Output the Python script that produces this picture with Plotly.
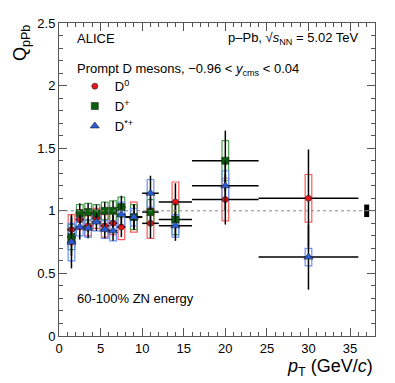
import plotly.graph_objects as go

# pT bins (GeV/c)
pt = [1.5, 2.5, 3.5, 4.5, 5.5, 6.5, 7.5, 9, 11, 14, 20, 30]
pt_hw = [0.5, 0.5, 0.5, 0.5, 0.5, 0.5, 0.5, 1, 1, 2, 4, 6]

# D0
d0_q = [0.85, 0.93, 0.88, 0.94, 0.88, 0.90, 0.87, 0.95, 0.90, 1.07, 1.09, 1.10]
d0_stat = [0.12, 0.06, 0.05, 0.05, 0.06, 0.07, 0.08, 0.10, 0.12, 0.15, 0.20, 0.39]
d0_syst = [0.12, 0.08, 0.08, 0.08, 0.09, 0.09, 0.10, 0.12, 0.12, 0.16, 0.17, 0.19]

# D+
dp_q = [0.79, 0.98, 0.99, 0.98, 1.00, 1.00, 1.03, 0.95, 0.99, 0.93, 1.40]
dp_stat = [0.15, 0.08, 0.07, 0.07, 0.07, 0.08, 0.09, 0.10, 0.12, 0.13, 0.24]
dp_syst = [0.10, 0.07, 0.07, 0.07, 0.07, 0.08, 0.08, 0.10, 0.10, 0.12, 0.16]

# D*+
ds_q = [0.75, 0.87, 0.86, 0.91, 0.85, 0.84, 0.97, 0.95, 1.14, 0.88, 1.20, 0.63]
ds_stat = [0.21, 0.10, 0.08, 0.07, 0.07, 0.08, 0.09, 0.10, 0.14, 0.12, 0.20, 0.26]
ds_syst = [0.15, 0.07, 0.07, 0.07, 0.07, 0.08, 0.10, 0.07, 0.11, 0.09, 0.12, 0.07]

# normalisation uncertainty
norm_x = [37]
norm_val = [1.0]
norm_unc = [0.05]

species = [
    ('D<sup>0</sup>', d0_q, d0_stat, d0_syst, 'circle', 6, '#e8141c', '#ff5a5a'),
    ('D<sup>+</sup>', dp_q, dp_stat, dp_syst, 'square', 7, '#0a5f0a', '#4fa04f'),
    ('D<sup>*+</sup>', ds_q, ds_stat, ds_syst, 'triangle-up', 8, '#2a5bd7', '#6b93f5'),
]

FONT = 'Liberation Sans, Arial, sans-serif'

fig = go.Figure()

# systematic boxes
for name, q, stat, syst, sym, size, col, boxcol in species:
    n = len(q)
    fig.add_trace(go.Bar(
        x=pt[:n], y=[2 * s for s in syst], base=[v - s for v, s in zip(q, syst)],
        width=0.8, marker=dict(color='rgba(0,0,0,0)', line=dict(color=boxcol, width=1.2)),
        showlegend=False, hoverinfo='skip'))

# points with stat errors
for name, q, stat, syst, sym, size, col, boxcol in species:
    n = len(q)
    fig.add_trace(go.Scatter(
        x=pt[:n], y=q, mode='markers', name=name,
        marker=dict(symbol=sym, size=size, color=col, line=dict(color='#222222', width=0.6)),
        error_y=dict(type='data', array=stat, color='black', thickness=1.5, width=0),
        error_x=dict(type='data', array=pt_hw[:n], color='black', thickness=1.5, width=0),
    ))

# normalisation box
fig.add_trace(go.Bar(
    x=norm_x, y=[2 * u for u in norm_unc], base=[v - u for v, u in zip(norm_val, norm_unc)],
    width=0.6, marker=dict(color='black', line=dict(width=0)), showlegend=False))

fig.add_hline(y=1, line=dict(color='#888888', width=1, dash='dot'))

axis_common = dict(
    showline=True, linecolor='#555555', linewidth=1, mirror='ticks',
    ticks='inside', ticklen=8, tickcolor='#555555', showgrid=False, zeroline=False,
    tickfont=dict(family=FONT, size=13, color='black'), automargin=False,
)

fig.update_xaxes(range=[0, 38], dtick=5, tick0=0,
                 minor=dict(dtick=1, ticks='inside', ticklen=4, tickcolor='#555555'),
                 **axis_common)
fig.update_yaxes(range=[0, 2.5], dtick=0.5, tick0=0,
                 minor=dict(dtick=0.1, ticks='inside', ticklen=4, tickcolor='#555555'),
                 **axis_common)

txt = dict(family=FONT, size=13, color='black')
ann = [
    dict(x=0.05, y=0.95, text='ALICE', xanchor='left'),
    dict(x=0.955, y=0.95, text='p–Pb, √<i>s</i><sub>NN</sub> = 5.02 TeV', xanchor='right'),
    dict(x=0.05, y=0.85, text='Prompt D mesons, −0.96 &lt; <i>y</i><sub>cms</sub> &lt; 0.04', xanchor='left'),
    dict(x=0.05, y=0.12, text='60-100% ZN energy', xanchor='left'),
]
for a in ann:
    fig.add_annotation(xref='paper', yref='paper', yanchor='middle', showarrow=False,
                       font=txt, **a)

fig.add_annotation(xref='paper', yref='paper', x=1.0, y=-0.1, xanchor='right', yanchor='middle',
                   text='<i>p</i><sub>T</sub> (GeV/<i>c</i>)', showarrow=False,
                   font=dict(family=FONT, size=18, color='black'))
fig.add_annotation(xref='paper', yref='paper', x=-0.12, y=1.0, xanchor='center', yanchor='top',
                   text='Q<sub>pPb</sub>', textangle=-90, showarrow=False,
                   font=dict(family=FONT, size=18, color='black'))

fig.update_layout(
    width=387, height=375,
    margin=dict(l=51, r=20, t=15, b=47),
    paper_bgcolor='white', plot_bgcolor='white',
    barmode='overlay',
    showlegend=True,
    legend=dict(x=0.05, y=0.846, xanchor='left', yanchor='top', bgcolor='rgba(0,0,0,0)',
                font=dict(family=FONT, size=13, color='black'), tracegroupgap=0,
                itemwidth=30),
)

fig.write_html('out.html')
